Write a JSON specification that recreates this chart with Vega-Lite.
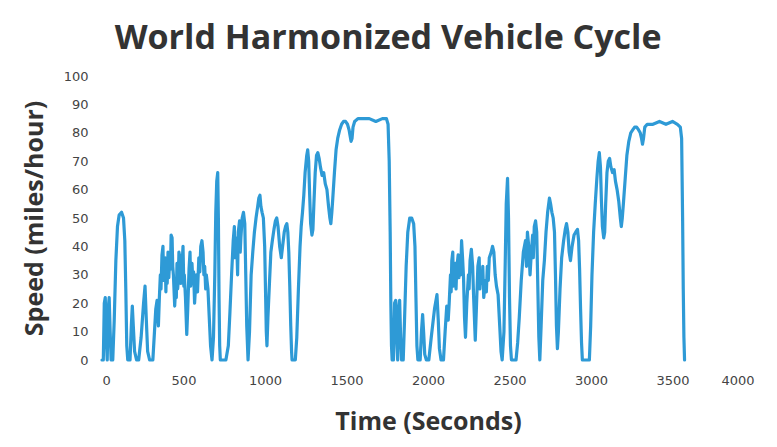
{
  "$schema": "https://vega.github.io/schema/vega-lite/v6.json",
  "width": 652,
  "height": 284,
  "autosize": {"type": "none"},
  "padding": {"left": 102, "top": 76, "right": 23, "bottom": 87},
  "background": "white",
  "title": {
    "text": "World Harmonized Vehicle Cycle",
    "font": "Open Sans",
    "fontSize": 34,
    "fontWeight": "bold",
    "color": "#333333",
    "anchor": "middle",
    "frame": "bounds",
    "offset": 14
  },
  "config": {
    "view": {"stroke": null},
    "axis": {
      "grid": false, "domain": false, "ticks": false,
      "labelFont": "DejaVu Sans", "labelFontSize": 13, "labelColor": "#444444",
      "titleFont": "Open Sans", "titleFontSize": 25, "titleFontWeight": "bold", "titleColor": "#333333"
    }
  },
  "data": {"values": [
    {"t":0,"v":0},{"t":8,"v":0},{"t":14,"v":20},{"t":20,"v":22},{"t":26,"v":8},{"t":32,"v":0},{"t":38,"v":18},{"t":44,"v":22},{"t":50,"v":10},{"t":56,"v":0},{"t":66,"v":0},{"t":75,"v":14},{"t":85,"v":35},{"t":95,"v":47},{"t":105,"v":51},{"t":120,"v":52},{"t":132,"v":50},{"t":140,"v":42},{"t":146,"v":25},{"t":152,"v":5},{"t":158,"v":0},{"t":172,"v":0},{"t":180,"v":12},{"t":186,"v":19},{"t":192,"v":12},{"t":200,"v":3},{"t":212,"v":0},{"t":225,"v":0},{"t":240,"v":8},{"t":255,"v":20},{"t":264,"v":26},{"t":272,"v":14},{"t":280,"v":3},{"t":292,"v":0},{"t":312,"v":0},{"t":322,"v":10},{"t":330,"v":18},{"t":338,"v":21},{"t":346,"v":12},{"t":352,"v":22},{"t":358,"v":30},{"t":362,"v":25},{"t":368,"v":37},{"t":374,"v":40},{"t":378,"v":28},{"t":382,"v":30},{"t":388,"v":36},{"t":392,"v":24},{"t":395,"v":33},{"t":400,"v":27},{"t":405,"v":38},{"t":410,"v":29},{"t":415,"v":35},{"t":420,"v":32},{"t":424,"v":44},{"t":430,"v":43},{"t":434,"v":33},{"t":438,"v":30},{"t":446,"v":19},{"t":452,"v":26},{"t":456,"v":22},{"t":460,"v":34},{"t":464,"v":25},{"t":468,"v":28},{"t":472,"v":38},{"t":478,"v":36},{"t":484,"v":27},{"t":490,"v":32},{"t":497,"v":40},{"t":502,"v":26},{"t":505,"v":30},{"t":512,"v":22},{"t":520,"v":9},{"t":526,"v":18},{"t":534,"v":32},{"t":540,"v":38},{"t":544,"v":26},{"t":548,"v":30},{"t":552,"v":34},{"t":558,"v":27},{"t":562,"v":31},{"t":568,"v":20},{"t":574,"v":26},{"t":580,"v":30},{"t":586,"v":24},{"t":594,"v":36},{"t":600,"v":31},{"t":606,"v":40},{"t":613,"v":42},{"t":620,"v":38},{"t":625,"v":30},{"t":630,"v":33},{"t":636,"v":25},{"t":640,"v":30},{"t":650,"v":25},{"t":658,"v":15},{"t":666,"v":5},{"t":675,"v":0},{"t":684,"v":8},{"t":692,"v":30},{"t":698,"v":52},{"t":704,"v":63},{"t":710,"v":66},{"t":714,"v":50},{"t":718,"v":22},{"t":722,"v":5},{"t":726,"v":0},{"t":760,"v":0},{"t":775,"v":5},{"t":785,"v":17},{"t":795,"v":30},{"t":805,"v":42},{"t":812,"v":47},{"t":816,"v":36},{"t":820,"v":43},{"t":828,"v":38},{"t":832,"v":30},{"t":836,"v":45},{"t":844,"v":49},{"t":848,"v":38},{"t":852,"v":43},{"t":860,"v":50},{"t":868,"v":52},{"t":876,"v":48},{"t":882,"v":30},{"t":888,"v":12},{"t":896,"v":0},{"t":905,"v":10},{"t":915,"v":30},{"t":925,"v":38},{"t":935,"v":45},{"t":945,"v":50},{"t":955,"v":54},{"t":962,"v":57},{"t":969,"v":58},{"t":975,"v":54},{"t":982,"v":52},{"t":990,"v":50},{"t":998,"v":40},{"t":1004,"v":22},{"t":1008,"v":10},{"t":1012,"v":5},{"t":1018,"v":15},{"t":1028,"v":28},{"t":1036,"v":38},{"t":1045,"v":42},{"t":1055,"v":46},{"t":1064,"v":49},{"t":1072,"v":50},{"t":1080,"v":47},{"t":1090,"v":40},{"t":1100,"v":36},{"t":1108,"v":40},{"t":1118,"v":45},{"t":1126,"v":47},{"t":1134,"v":48},{"t":1140,"v":45},{"t":1146,"v":38},{"t":1152,"v":26},{"t":1158,"v":12},{"t":1163,"v":3},{"t":1166,"v":0},{"t":1186,"v":0},{"t":1195,"v":8},{"t":1205,"v":25},{"t":1215,"v":40},{"t":1222,"v":47},{"t":1230,"v":52},{"t":1238,"v":58},{"t":1246,"v":66},{"t":1256,"v":72},{"t":1262,"v":74},{"t":1268,"v":70},{"t":1274,"v":58},{"t":1280,"v":48},{"t":1288,"v":44},{"t":1294,"v":46},{"t":1300,"v":55},{"t":1308,"v":66},{"t":1316,"v":72},{"t":1324,"v":73},{"t":1332,"v":71},{"t":1340,"v":68},{"t":1350,"v":65},{"t":1360,"v":66},{"t":1370,"v":62},{"t":1380,"v":60},{"t":1390,"v":54},{"t":1398,"v":50},{"t":1404,"v":48},{"t":1410,"v":52},{"t":1416,"v":57},{"t":1426,"v":66},{"t":1436,"v":74},{"t":1446,"v":78},{"t":1458,"v":81},{"t":1470,"v":83},{"t":1482,"v":84},{"t":1494,"v":84},{"t":1506,"v":83},{"t":1516,"v":81},{"t":1522,"v":79},{"t":1528,"v":77},{"t":1534,"v":78},{"t":1540,"v":82},{"t":1550,"v":84},{"t":1570,"v":85},{"t":1600,"v":85},{"t":1640,"v":85},{"t":1680,"v":84},{"t":1720,"v":85},{"t":1745,"v":85},{"t":1755,"v":83},{"t":1762,"v":70},{"t":1768,"v":45},{"t":1772,"v":20},{"t":1776,"v":5},{"t":1780,"v":0},
    {"t":1788,"v":0},{"t":1795,"v":20},{"t":1802,"v":21},{"t":1808,"v":8},{"t":1814,"v":0},{"t":1820,"v":18},{"t":1826,"v":21},{"t":1832,"v":8},{"t":1838,"v":0},{"t":1848,"v":0},{"t":1856,"v":14},{"t":1866,"v":33},{"t":1876,"v":45},{"t":1888,"v":50},{"t":1900,"v":50},{"t":1912,"v":48},{"t":1920,"v":40},{"t":1926,"v":22},{"t":1932,"v":5},{"t":1938,"v":0},{"t":1952,"v":0},{"t":1960,"v":10},{"t":1967,"v":16},{"t":1973,"v":10},{"t":1980,"v":2},{"t":1990,"v":0},{"t":2005,"v":0},{"t":2020,"v":8},{"t":2040,"v":18},{"t":2055,"v":23},{"t":2063,"v":14},{"t":2070,"v":4},{"t":2080,"v":0},{"t":2095,"v":0},{"t":2105,"v":10},{"t":2115,"v":19},{"t":2124,"v":14},{"t":2130,"v":20},{"t":2138,"v":30},{"t":2142,"v":24},{"t":2146,"v":35},{"t":2152,"v":38},{"t":2156,"v":26},{"t":2160,"v":28},{"t":2168,"v":34},{"t":2172,"v":25},{"t":2176,"v":32},{"t":2185,"v":37},{"t":2190,"v":29},{"t":2195,"v":36},{"t":2200,"v":30},{"t":2206,"v":42},{"t":2212,"v":36},{"t":2218,"v":29},{"t":2224,"v":15},{"t":2230,"v":8},{"t":2238,"v":20},{"t":2248,"v":30},{"t":2252,"v":25},{"t":2258,"v":35},{"t":2266,"v":39},{"t":2274,"v":33},{"t":2280,"v":22},{"t":2290,"v":7},{"t":2298,"v":20},{"t":2306,"v":33},{"t":2314,"v":36},{"t":2318,"v":25},{"t":2322,"v":30},{"t":2332,"v":27},{"t":2336,"v":33},{"t":2342,"v":22},{"t":2352,"v":28},{"t":2358,"v":24},{"t":2364,"v":33},{"t":2370,"v":28},{"t":2376,"v":36},{"t":2388,"v":38},{"t":2396,"v":40},{"t":2404,"v":38},{"t":2412,"v":30},{"t":2420,"v":26},{"t":2430,"v":23},{"t":2440,"v":12},{"t":2448,"v":3},{"t":2455,"v":0},{"t":2466,"v":10},{"t":2474,"v":35},{"t":2480,"v":55},{"t":2488,"v":64},{"t":2494,"v":50},{"t":2500,"v":22},{"t":2506,"v":5},{"t":2512,"v":0},{"t":2540,"v":0},{"t":2550,"v":6},{"t":2560,"v":15},{"t":2572,"v":28},{"t":2585,"v":38},{"t":2598,"v":42},{"t":2604,"v":33},{"t":2610,"v":45},{"t":2618,"v":40},{"t":2626,"v":30},{"t":2634,"v":38},{"t":2642,"v":44},{"t":2646,"v":36},{"t":2652,"v":47},{"t":2660,"v":49},{"t":2667,"v":45},{"t":2674,"v":25},{"t":2680,"v":8},{"t":2686,"v":0},{"t":2694,"v":12},{"t":2704,"v":28},{"t":2714,"v":35},{"t":2724,"v":45},{"t":2734,"v":52},{"t":2745,"v":57},{"t":2752,"v":55},{"t":2760,"v":52},{"t":2768,"v":50},{"t":2776,"v":45},{"t":2782,"v":30},{"t":2788,"v":12},{"t":2794,"v":4},{"t":2800,"v":10},{"t":2810,"v":25},{"t":2820,"v":36},{"t":2832,"v":42},{"t":2842,"v":46},{"t":2850,"v":48},{"t":2858,"v":45},{"t":2866,"v":38},{"t":2874,"v":35},{"t":2884,"v":40},{"t":2896,"v":44},{"t":2906,"v":45},{"t":2917,"v":46},{"t":2924,"v":42},{"t":2930,"v":32},{"t":2936,"v":18},{"t":2942,"v":6},{"t":2947,"v":0},{"t":2990,"v":0},{"t":2998,"v":12},{"t":3006,"v":30},{"t":3016,"v":45},{"t":3026,"v":55},{"t":3036,"v":64},{"t":3044,"v":70},{"t":3051,"v":73},{"t":3058,"v":68},{"t":3064,"v":56},{"t":3070,"v":47},{"t":3078,"v":43},{"t":3084,"v":45},{"t":3090,"v":55},{"t":3098,"v":66},{"t":3106,"v":70},{"t":3114,"v":71},{"t":3122,"v":68},{"t":3132,"v":66},{"t":3142,"v":67},{"t":3150,"v":63},{"t":3160,"v":60},{"t":3170,"v":56},{"t":3180,"v":50},{"t":3186,"v":47},{"t":3192,"v":50},{"t":3200,"v":56},{"t":3210,"v":64},{"t":3220,"v":72},{"t":3232,"v":77},{"t":3244,"v":80},{"t":3256,"v":81},{"t":3268,"v":82},{"t":3280,"v":82},{"t":3292,"v":81},{"t":3302,"v":80},{"t":3310,"v":78},{"t":3316,"v":76},{"t":3322,"v":78},{"t":3330,"v":82},{"t":3345,"v":83},{"t":3380,"v":83},{"t":3420,"v":84},{"t":3460,"v":83},{"t":3500,"v":84},{"t":3530,"v":83},{"t":3548,"v":82},{"t":3556,"v":78},{"t":3562,"v":50},{"t":3566,"v":25},{"t":3570,"v":8},{"t":3574,"v":0}
  ]},
  "mark": {"type": "line", "color": "#2E9AD6", "strokeWidth": 3.2, "strokeJoin": "round", "strokeCap": "round"},
  "encoding": {
    "x": {"field": "t", "type": "quantitative", "scale": {"domain": [0, 4000], "nice": false},
      "axis": {"title": "Time (Seconds)", "format": "d", "values": [0,500,1000,1500,2000,2500,3000,3500,4000], "labelPadding": 14, "titlePadding": 22}},
    "y": {"field": "v", "type": "quantitative", "scale": {"domain": [0, 100], "nice": false},
      "axis": {"title": "Speed (miles/hour)", "values": [0,10,20,30,40,50,60,70,80,90,100], "labelPadding": 14, "titlePadding": 16}}
  }
}
